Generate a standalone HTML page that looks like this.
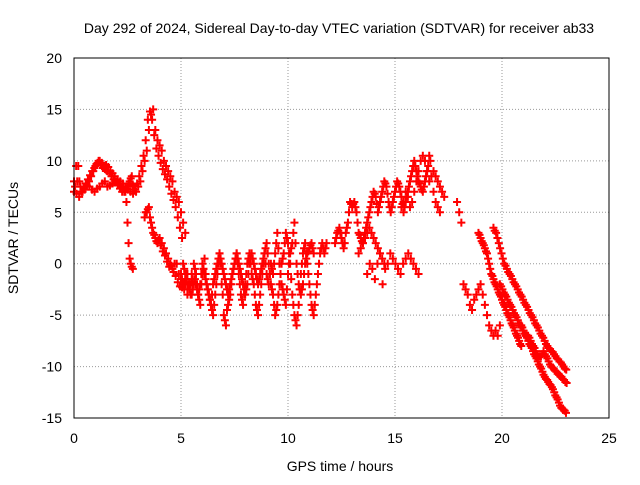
<!DOCTYPE html>
<html><head><meta charset="utf-8"><style>
body{margin:0;background:#fff;font-family:"Liberation Sans",sans-serif}
svg text{font-family:"Liberation Sans",sans-serif;font-size:14px;fill:#000}
</style></head><body>
<svg id="c" width="640" height="480">
<rect width="640" height="480" fill="#fff"/>
<text x="339" y="33" text-anchor="middle">Day 292 of 2024, Sidereal Day-to-day VTEC variation (SDTVAR) for receiver ab33</text>
<text x="340" y="471" text-anchor="middle">GPS time / hours</text>
<text transform="translate(18,238) rotate(-90)" text-anchor="middle">SDTVAR / TECUs</text>
<g id="grid"></g><g id="marks"></g>
<rect x="74" y="58" width="535" height="360" fill="none" stroke="#000"/>
</svg>
<script>
const xTicks=[0,5,10,15,20,25];
const yTicks=[-15,-10,-5,0,5,10,15,20];
// each track: start hour, step hour, values
const trackStarts=[0,0,3.3,5,5.1,12.2,13.7,16.8,17.9,18.9,19.6,19.9,20.9,2.4,0.05,3.35,5.05,5.15,12.25,13.3,18.95,19.66,19.96,20.95,15.3];
const trackSteps=[0.1,0.12,0.1,0.1,0.1,0.1,0.12,0.1,0.1,0.1,0.126,0.12,0.11,0.05,0.1,0.1,0.1,0.1,0.1,0.1,0.1,0.126,0.12,0.11,0.1];
const trackValues=[
[8,9.5,9.5,7.5,7,7.2,7.5,8,8.5,9,9.5,9.8,10,9.8,9.5,9.6,9.4,9,8.8,8.5,8,7.8,7.5,7.4,7.2,7.5,8,8.5,7.5,7,7.5,8,9,10,11,13,14.5,15,13,12,11.5,11,10,9.5,9,8.5,8,7,6.5,6,5,4,3],
[7,6.8,6.5,7,7.5,7.6,7.5,7.2,7,7.3,7.5,7.8,8,7.5,7.6,7.8,8,8.2,8,7.8,7.5,7.2,7,6.8],
[4.5,5,5.5,4,3,2.5,2,2.5,2,1.5,1,0.5,0,-0.5,0,0,-1,-1.5,-2,-2,-2.5,-2,-1.8],
[-1,-2,-1,-3,-2,-1,0,-2,-3,-4,-1,0.5,-2,-3,-4,-5,-3,-1,1,-2,-5,-6,-4,-3,-1,0,1,-1,-3,-4,-2,0,1,-1,-2,-4,-5,-3,-1,1,2,0,-2,-3,-5,-4,-2,0,1,3,2,0,-3,-5,-6,-4,-1,1,2,0,-2,-4,-5,-3,-1,1,2,1,2],
[0,-1.5,-1,-2.5,-3,-2,-1,-3,-2,0,-1,-2,-3,-4,-2,-1,0,1,0,-1,-2,-3,-2,-1,0,1,0,-1,-2,-3,-2,0,1,0,-1,-2,-1,0,1,-1,-2,0,-1,1,3,0,-2,-3,-4,-1,1,2,4,0,-2,-3,-2,0,1,1.5,2,1],
[2,3,3.5,2.5,1.5,3,4,6,5.5,6,5,3,2.5,2,3,4,5,6,7,6.5,5,6,7,8,7.5,6,5,6,7,8,7.5,6.5,5,6,7,8,9,10,9,8,7.5,7,8,9,10.5],
[-1,0,-0.5,-1.5,0,1,-2,-0.5,0,1,0.5,0,-0.5,-1,0,0.5,1,0.5,0,-0.5,-1],
[9,8.5,8,7.5,7,6.5],
[6,5,4,-2,-2.5,-3,-4,-4.5,-3.5,-3,-2.5,-2,-3,-4,-5,-6,-6.5,-7,-6.5,-7,-6],
[3,2.5,2,1.5,1,0,-1,-1.5,-2,-2.5,-3,-3.5,-4,-4.5,-5,-5.5,-6,-6.5,-7,-7.5,-8],
[3.5,3,2,1,0,-0.5,-1,-1.5,-2,-2.5,-3,-3.5,-4,-4.5,-5,-5.5,-6,-6.5,-7,-7.5,-8,-8.3,-8.6,-9,-9.3,-9.6,-10,-10.3],
[-2,-2.5,-3,-3.5,-4,-4.5,-5,-5.5,-6,-6.5,-7,-7,-7.5,-8,-8.5,-9,-9,-8.5,-9,-9.5,-10,-10.2,-10.5,-10.8,-11,-11.3,-11.6],
[-6,-6.5,-7,-7.5,-8,-8.5,-9,-9.5,-10,-10.5,-11,-11.3,-11.7,-12,-12.5,-13,-13.5,-14,-14.2,-14.5],
[7,6,4,2,0.5,0,-0.3,-0.5],
[7.5,8,8,7,7.3,7.8,8.2,8.6,9,9.3,9.7,10,9.6,9.3,9.2,9,8.8,8.5,8.2,7.9,7.6,7.3,7,7,7.3,7.8,8.3,7.6,7.2,7.8,8.5,9.5,10.5,12,14,14.8,14,12.5,11.2,10.5,9.8,9.2,8.7,8.2,7.5,6.8,6.2,5.5,4.5,3.5,2.5],
[5,5.3,4.5,3.5,2.8,2.2,2.3,1.8,1.2,0.8,0.2,-0.3,-0.2,-0.8,-1.2,-1.8,-2.2,-2.3,-1.8,-1.5],
[-1.5,-2.5,-1.5,-2,-3,-1.5,-0.5,-2.5,-3.5,-2,-0.5,-1,-2.5,-3.5,-4.5,-4,-2,0,0,-3,-5.5,-4.5,-3.5,-2,-0.5,0.5,0,-2,-3.5,-3,-1,0.5,0,-1.5,-3,-4.5,-4,-2,0,1.5,1,-1,-2.5,-4,-4.5,-3,-1,0.5,2,2.5,1,-1.5,-4,-5.5,-5,-2.5,0,1.5,1,-1,-3,-4.5,-4,-2,0,1.5,1.5,1.5],
[-0.5,-1,-2,-2,-2.5,-1.5,-2,-2.5,-1,-0.5,-1.5,-2.5,-3.5,-3,-1.5,-0.5,0.5,0.5,-0.5,-1.5,-2.5,-2.5,-1.5,-0.5,0.5,0.5,-0.5,-1.5,-2.5,-2.5,-1,0.5,0.5,-0.5,-1.5,-1.5,-0.5,0.5,0,-1.5,-1,-0.5,0,2,1.5,-1,-2.5,-3.5,-2.5,0,1.5,3,2,-1,-2.5,-2.5,-1,0.5,1.2,1.8,1.5],
[2.5,3.2,3,2,2,3.5,5,5.8,5.8,5.5,4,2.8,2.2,2.5,3.5,4.5,5.5,6.5,6.8,5.8,5.5,6.5,7.5,7.8,6.8,5.5,5.5,6.5,7.5,7.8,7,5.8,5.5,6.5,7.5,8.5,9.5,9.5,8.5,7.8,7.2,7.5,8.5,9.5,10],
[1,1.5,2,2.5,3,3.5,3,2.5,2,1.5,1,0.5,0],
[2.8,2.2,1.8,1.2,0.5,-0.5,-1.2,-1.8,-2.2,-2.8,-3.2,-3.8,-4.2,-4.8,-5.2,-5.8,-6.2,-6.8,-7.2,-7.8],
[3.2,2.5,1.5,0.5,-0.2,-0.8,-1.2,-1.8,-2.2,-2.8,-3.2,-3.8,-4.2,-4.8,-5.2,-5.8,-6.2,-6.8,-7.2,-7.8,-8.2,-8.5,-8.8,-9.2,-9.5,-9.8,-10.2],
[-2.2,-2.8,-3.2,-3.8,-4.2,-4.8,-5.2,-5.8,-6.2,-6.8,-7,-7.2,-7.8,-8.2,-8.8,-9,-8.8,-8.8,-9.2,-9.8,-10.1,-10.4,-10.7,-10.9,-11.2,-11.5],
[-6.2,-6.8,-7.2,-7.8,-8.2,-8.8,-9.2,-9.8,-10.2,-10.8,-11.2,-11.5,-11.8,-12.2,-12.8,-13.2,-13.8,-14.1,-14.3],
[5.5,6,7,6.5,5.5,6,7,8,9,10,10.5,10,9,8,8.5,7,6,5.5,5]
];
const X=v=>74+v*535/25, Y=v=>58+(20-v)*360/35;
const ns="http://www.w3.org/2000/svg", g=document.getElementById('grid'), m=document.getElementById('marks');
xTicks.forEach(t=>{
 if(t>0&&t<25){const l=document.createElementNS(ns,'line');l.setAttribute('x1',X(t));l.setAttribute('x2',X(t));l.setAttribute('y1',58);l.setAttribute('y2',418);l.setAttribute('stroke','#999');l.setAttribute('stroke-dasharray','1,2');
 
 g.appendChild(l);}
 const tx=document.createElementNS(ns,'text');tx.setAttribute('x',X(t));tx.setAttribute('y',443);tx.setAttribute('text-anchor','middle');tx.textContent=t;
 
 g.appendChild(tx);
});
yTicks.forEach(t=>{
 if(t>-15&&t<20){const l=document.createElementNS(ns,'line');l.setAttribute('x1',74);l.setAttribute('x2',609);l.setAttribute('y1',Y(t));l.setAttribute('y2',Y(t));l.setAttribute('stroke','#999');l.setAttribute('stroke-dasharray','1,2');
 
 g.appendChild(l);}
 const tx=document.createElementNS(ns,'text');tx.setAttribute('x',62);tx.setAttribute('y',Y(t)+5);tx.setAttribute('text-anchor','end');tx.textContent=t;
 
 g.appendChild(tx);
});
trackValues.forEach((vals,k)=>{
 vals.forEach((v,i)=>{
  const t=trackStarts[k]+i*trackSteps[k];
  const x=X(t),y=Y(v);
  const p=document.createElementNS(ns,'path');
  p.setAttribute('d',`M${x-4},${y}h8M${x},${y-4}v8`);
  p.setAttribute('stroke','#f00');p.setAttribute('stroke-width','2');
  
  
  m.appendChild(p);
 });
});
</script>
</body></html>
